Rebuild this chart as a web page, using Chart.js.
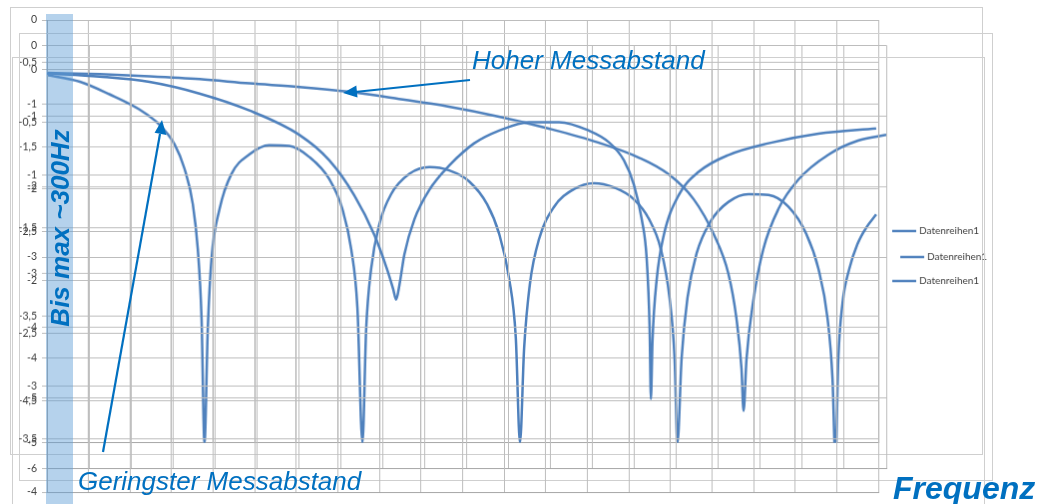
<!DOCTYPE html>
<html>
<head>
<meta charset="utf-8">
<script src="https://cdn.jsdelivr.net/npm/chart.js@4.4.0/dist/chart.umd.min.js"></script>
<style>
  body { margin: 0; width: 1038px; height: 504px; overflow: hidden; background: #fff; position: relative;
         font-family: "Liberation Sans", Arial, sans-serif; }
  canvas { position: absolute; border: 1px solid #cfcfcf; }
  #band { position: absolute; left: 46px; top: 14px; width: 27px; height: 490px; background: rgba(91,155,213,0.45); }
  .note { position: absolute; color: #0070C0; font-style: italic; white-space: nowrap; line-height: 30px; }
  #arrows { position: absolute; left: 0; top: 0; }
</style>
</head>
<body>
<canvas id="c1" width="973" height="448" style="left:10px;top:7px"></canvas>
<canvas id="c2" width="974" height="448" style="left:19px;top:33px"></canvas>
<canvas id="c3" width="973" height="448" style="left:12px;top:57px"></canvas>

<div id="band"></div>
<div class="note" style="left:60px;top:228px;font-weight:bold;font-size:26px;transform:translate(-50%,-50%) rotate(-90deg)">Bis max ~300Hz</div>
<div class="note" style="left:472px;top:45px;font-size:26px">Hoher Messabstand</div>
<div class="note" style="left:78px;top:466px;font-size:26px">Geringster Messabstand</div>
<div class="note" style="left:893px;top:473px;font-size:32px;font-weight:bold">Frequenz</div>

<svg id="arrows" width="1038" height="504">
  <line x1="470" y1="80" x2="355" y2="92" stroke="#0070C0" stroke-width="2.2"/>
  <polygon points="343,93 356.3,85.6 357.5,97.6" fill="#0070C0"/>
  <line x1="103" y1="452" x2="160" y2="134" stroke="#0070C0" stroke-width="2.2"/>
  <polygon points="162,120 166.4,134.9 154.6,132.7" fill="#0070C0"/>
</svg>

<script>
// Diagramm 1: geringster Messabstand
const xs1 = [0, 0.79, 1.51, 2.23, 2.71, 3.07, 3.31, 3.51, 3.63, 3.72, 3.79, 3.87, 3.96, 4.15, 4.44, 4.87, 5.35, 5.83, 6.31, 6.79,
             7.11, 7.32, 7.47, 7.59, 7.68, 7.80, 8.0, 8.28, 8.72, 9.20, 9.68, 10.16, 10.59, 10.88, 11.12, 11.28, 11.38, 11.48, 11.62, 11.84,
             12.20, 12.68, 13.16, 13.64, 14.12, 14.48, 14.77, 14.98, 15.10, 15.17, 15.27, 15.41, 15.63, 15.97, 16.40, 16.88, 17.36, 17.84, 18.27, 18.56,
             18.78, 18.90, 18.97, 19.04, 19.14, 19.30, 19.50, 19.72, 19.95];
const ys1 = [-0.65, -0.73, -0.88, -1.06, -1.24, -1.47, -1.76, -2.18, -2.71, -3.53, -5.0, -3.65, -2.82, -2.24, -1.82, -1.59, -1.48, -1.49, -1.62, -1.88,
             -2.24, -2.71, -3.41, -5.0, -3.65, -2.94, -2.41, -2.06, -1.82, -1.74, -1.78, -1.91, -2.18, -2.53, -3.06, -3.76, -5.0, -3.88, -3.12, -2.59,
             -2.21, -2.0, -1.93, -1.98, -2.12, -2.35, -2.71, -3.29, -4.0, -5.0, -4.0, -3.29, -2.76, -2.38, -2.15, -2.06, -2.07, -2.21, -2.53, -2.94,
             -3.53, -4.24, -5.2, -4.0, -3.35, -2.95, -2.65, -2.45, -2.30];
const yTicks1 = [0, -0.5, -1, -1.5, -2, -2.5, -3, -3.5, -4, -4.5, -5];

// Diagramm 2: hoher Messabstand
const xs2 = [0, 1.26, 2.45, 3.64, 4.83, 6.02, 7.21, 8.39, 9.58, 10.77, 11.96, 13.15, 14.10, 14.82, 15.41, 15.89, 16.24, 16.43, 16.55, 16.60,
             16.67, 16.84, 17.07, 17.43, 17.91, 18.62, 19.33, 20];
const ys2 = [-0.39, -0.41, -0.44, -0.48, -0.54, -0.59, -0.66, -0.76, -0.87, -1.01, -1.18, -1.38, -1.59, -1.83, -2.18, -2.68, -3.24, -3.87, -4.58, -5.18,
             -4.44, -3.59, -2.89, -2.32, -1.90, -1.55, -1.35, -1.27];
const yTicks2 = [0, -1, -2, -3, -4, -5, -6];

// Diagramm 3: mittlerer Messabstand
const xs3 = [0, 1.27, 2.47, 3.67, 4.87, 6.07, 6.79, 7.39, 7.88, 8.19, 8.33, 8.40, 8.48, 8.60, 8.84, 9.20, 9.68, 10.28, 10.88, 11.60,
             12.32, 13.04, 13.52, 13.88, 14.12, 14.31, 14.43, 14.50, 14.53, 14.57, 14.67, 14.84, 15.20, 15.68, 16.40, 17.36, 18.56, 19.95];
const ys3 = [-0.04, -0.07, -0.12, -0.23, -0.39, -0.62, -0.86, -1.19, -1.57, -1.90, -2.08, -2.18, -2.04, -1.75, -1.42, -1.14, -0.91, -0.70, -0.58, -0.50,
             -0.50, -0.58, -0.69, -0.86, -1.09, -1.42, -1.80, -2.46, -3.12, -2.56, -1.99, -1.57, -1.19, -0.97, -0.81, -0.70, -0.61, -0.56];
const yTicks3 = [0, -0.5, -1, -1.5, -2, -2.5, -3, -3.5, -4];

const seriesName = 'Datenreihen1';
const lineColor = '#4F81BD';
const gridColor = '#bdbdbd';

// kleine Legende rechts neben dem Diagramm
const sideLegend = {
  id: 'sideLegend',
  afterDraw(chart) {
    const ctx = chart.ctx;
    const x0 = chart.chartArea.right + 14;
    const y = chart.height / 2;
    ctx.save();
    ctx.strokeStyle = lineColor;
    ctx.lineWidth = 2.5;
    ctx.beginPath();
    ctx.moveTo(x0, y);
    ctx.lineTo(x0 + 24, y);
    ctx.stroke();
    ctx.fillStyle = '#404040';
    ctx.font = '10px Lato';
    ctx.textBaseline = 'middle';
    ctx.fillText(chart.data.datasets[0].label, x0 + 27, y);
    ctx.restore();
  }
};

function makeChart(id, xs, ys, yTicks, axisW, pad, xMax) {
  return new Chart(document.getElementById(id), {
    type: 'line',
    data: {
      datasets: [{
        label: seriesName,
        data: xs.map((x, i) => ({ x: x, y: ys[i] })),
        borderColor: lineColor,
        borderWidth: 2.5,
        pointRadius: 0,
        cubicInterpolationMode: 'monotone',
        fill: false
      }]
    },
    options: {
      responsive: false,
      animation: false,
      layout: { padding: pad },
      plugins: { legend: { display: false }, tooltip: { enabled: false } },
      scales: {
        x: {
          type: 'linear', min: 0, max: xMax,
          ticks: { display: false, stepSize: 1 },
          grid: { color: gridColor, drawTicks: false },
          border: { color: '#a6a6a6' },
          afterFit: s => { s.height = 0; }
        },
        y: {
          min: yTicks[yTicks.length - 1], max: yTicks[0],
          afterBuildTicks: s => { s.ticks = yTicks.map(v => ({ value: v })); },
          ticks: {
            color: '#404040', font: { family: 'Lato', size: 10.5 }, padding: 5,
            callback: v => String(v).replace('.', ',')
          },
          grid: { color: gridColor, tickLength: 5 },
          border: { color: '#a6a6a6' },
          afterFit: s => { s.width = axisW; }
        }
      }
    },
    plugins: [sideLegend]
  });
}

makeChart('c1', xs1, ys1, yTicks1, 36, { top: 12, right: 104, bottom: 11, left: 0 }, 20);
makeChart('c2', xs2, ys2, yTicks2, 27, { top: 11, right: 106, bottom: 11, left: 0 }, 20);
makeChart('c3', xs3, ys3, yTicks3, 34, { top: 11, right: 106, bottom: 12, left: 0 }, 20);
</script>
</body>
</html>
